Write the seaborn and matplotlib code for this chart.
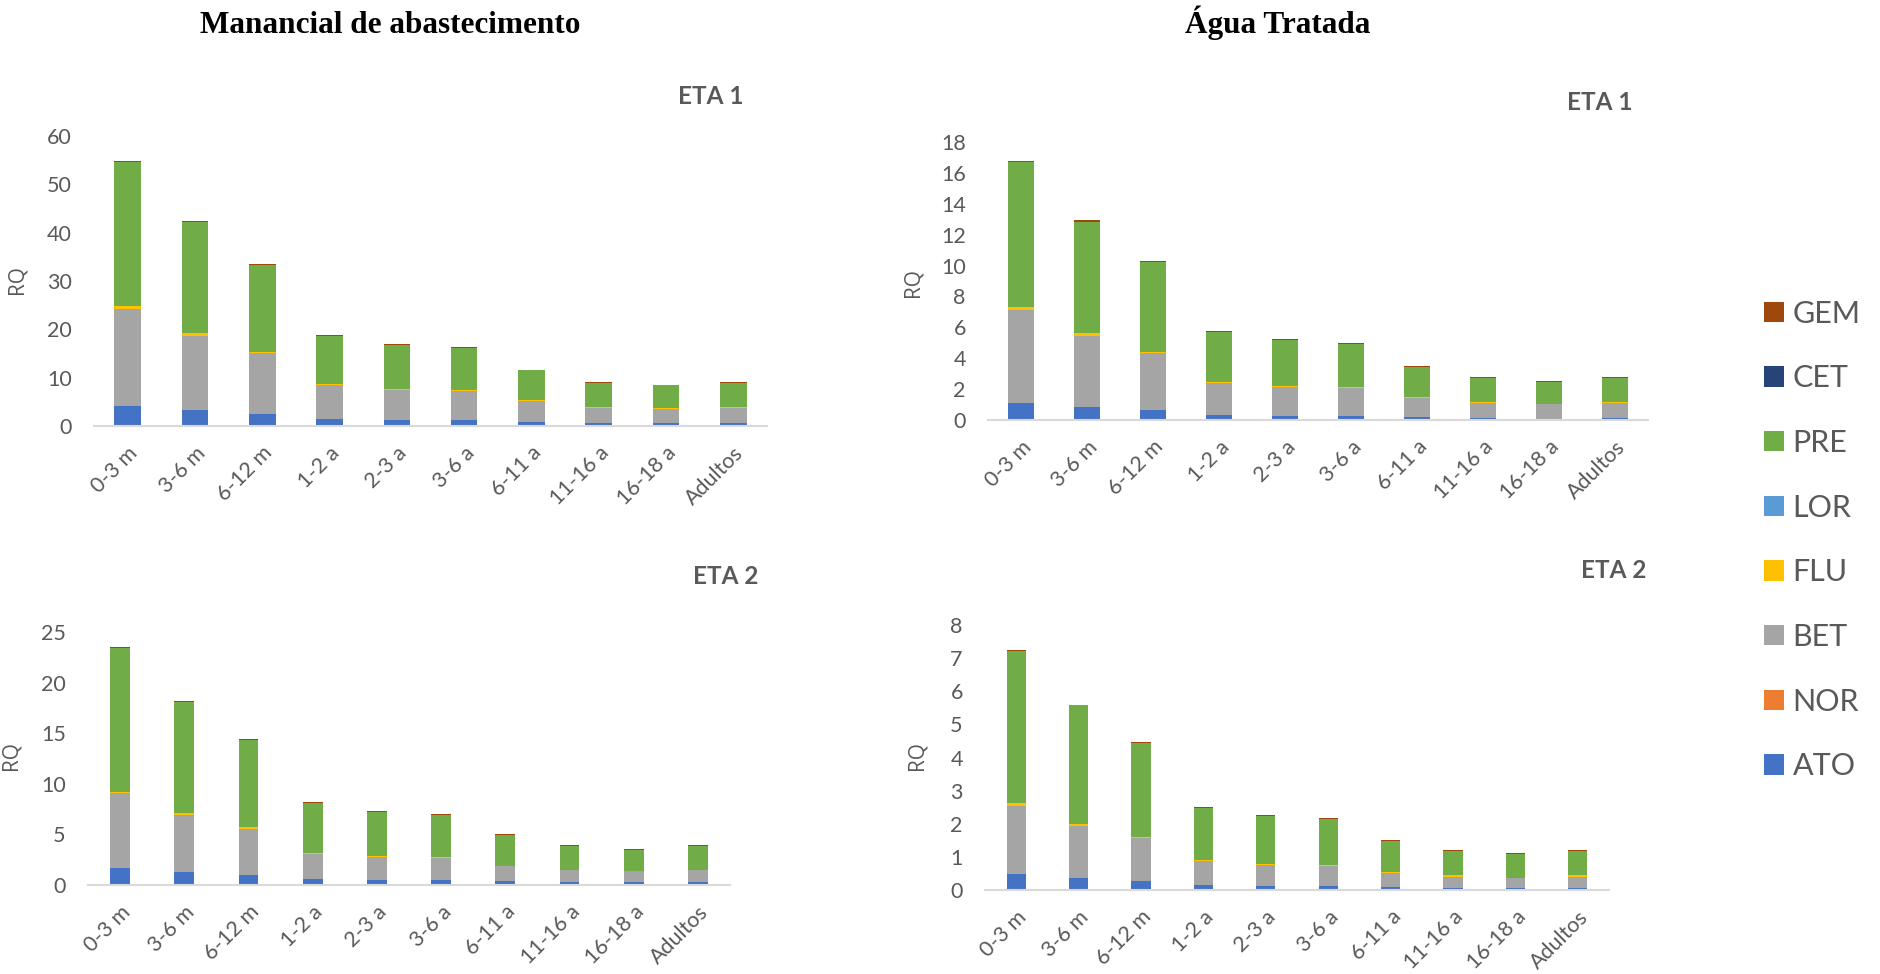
import numpy as np
import pandas as pd
import matplotlib
matplotlib.use("Agg")
import matplotlib.pyplot as plt
from matplotlib.patches import Patch
import seaborn as sns

# ---------------------------------------------------------------- data
idades = ["0-3 m", "3-6 m", "6-12 m", "1-2 a", "2-3 a", "3-6 a",
          "6-11 a", "11-16 a", "16-18 a", "Adultos"]
compostos = ["ATO", "NOR", "BET", "FLU", "LOR", "PRE", "CET", "GEM"]
cores = ["#4472C4", "#ED7D31", "#A5A5A5", "#FFC000",
         "#5B9BD5", "#70AD47", "#264478", "#9E480E"]

# Manancial de abastecimento - ETA 1
man1_ato = [4.15, 3.3, 2.5, 1.45, 1.25, 1.2, 0.8, 0.55, 0.55, 0.55]
man1_nor = [0.0, 0.0, 0.0, 0.0, 0.0, 0.0, 0.0, 0.0, 0.0, 0.0]
man1_bet = [20.05, 15.4, 12.6, 6.95, 6.25, 6.0, 4.4, 3.15, 3.05, 3.15]
man1_flu = [0.7, 0.5, 0.2, 0.3, 0.2, 0.2, 0.1, 0.3, 0.05, 0.3]
man1_lor = [0.0, 0.0, 0.0, 0.0, 0.0, 0.0, 0.0, 0.0, 0.0, 0.0]
man1_pre = [29.7, 23.0, 18.1, 10.0, 9.1, 8.8, 6.2, 5.0, 4.75, 5.0]
man1_cet = [0.0, 0.0, 0.0, 0.0, 0.0, 0.0, 0.0, 0.0, 0.0, 0.0]
man1_gem = [0.2, 0.15, 0.15, 0.15, 0.2, 0.2, 0.15, 0.15, 0.15, 0.15]

# Manancial de abastecimento - ETA 2
man2_ato = [1.64, 1.25, 0.99, 0.56, 0.49, 0.49, 0.36, 0.3, 0.26, 0.3]
man2_nor = [0.0, 0.0, 0.0, 0.0, 0.0, 0.0, 0.0, 0.0, 0.0, 0.0]
man2_bet = [7.41, 5.65, 4.5, 2.5, 2.31, 2.17, 1.52, 1.18, 1.12, 1.18]
man2_flu = [0.15, 0.17, 0.2, 0.07, 0.06, 0.06, 0.04, 0.04, 0.03, 0.04]
man2_lor = [0.0, 0.0, 0.0, 0.0, 0.0, 0.0, 0.0, 0.0, 0.0, 0.0]
man2_pre = [14.25, 11.02, 8.65, 4.93, 4.38, 4.22, 2.98, 2.3, 2.08, 2.3]
man2_cet = [0.0, 0.0, 0.0, 0.0, 0.0, 0.0, 0.0, 0.0, 0.0, 0.0]
man2_gem = [0.1, 0.08, 0.1, 0.1, 0.1, 0.1, 0.1, 0.09, 0.1, 0.09]

# Agua tratada - ETA 1
trat1_ato = [1.12, 0.86, 0.65, 0.34, 0.26, 0.26, 0.19, 0.13, 0.09, 0.13]
trat1_nor = [0.0, 0.0, 0.0, 0.0, 0.0, 0.0, 0.0, 0.0, 0.0, 0.0]
trat1_bet = [5.99, 4.57, 3.66, 2.03, 1.9, 1.81, 1.23, 0.95, 0.94, 0.95]
trat1_flu = [0.22, 0.22, 0.11, 0.09, 0.06, 0.09, 0.09, 0.08, 0.03, 0.08]
trat1_lor = [0.0, 0.0, 0.05, 0.0, 0.0, 0.0, 0.0, 0.0, 0.0, 0.0]
trat1_pre = [9.37, 7.2, 5.73, 3.23, 2.95, 2.75, 1.94, 1.58, 1.4, 1.58]
trat1_cet = [0.0, 0.0, 0.0, 0.0, 0.0, 0.0, 0.0, 0.0, 0.0, 0.0]
trat1_gem = [0.1, 0.08, 0.08, 0.06, 0.07, 0.07, 0.06, 0.06, 0.06, 0.06]

# Agua tratada - ETA 2
trat2_ato = [0.48, 0.35, 0.28, 0.16, 0.13, 0.13, 0.1, 0.07, 0.07, 0.07]
trat2_nor = [0.0, 0.0, 0.0, 0.0, 0.0, 0.0, 0.0, 0.0, 0.0, 0.0]
trat2_bet = [2.06, 1.58, 1.28, 0.71, 0.63, 0.59, 0.42, 0.33, 0.29, 0.33]
trat2_flu = [0.08, 0.06, 0.05, 0.04, 0.04, 0.04, 0.01, 0.04, 0.01, 0.04]
trat2_lor = [0.0, 0.0, 0.0, 0.0, 0.0, 0.0, 0.0, 0.0, 0.0, 0.0]
trat2_pre = [4.6, 3.58, 2.82, 1.57, 1.43, 1.38, 0.96, 0.75, 0.71, 0.75]
trat2_cet = [0.0, 0.0, 0.0, 0.0, 0.0, 0.0, 0.0, 0.0, 0.0, 0.0]
trat2_gem = [0.03, 0.03, 0.03, 0.04, 0.03, 0.03, 0.03, 0.03, 0.03, 0.03]

paineis = [
    dict(series=[man1_ato, man1_nor, man1_bet, man1_flu, man1_lor, man1_pre, man1_cet, man1_gem],
         rotulo="ETA 1", ymax=60, passo=10),
    dict(series=[trat1_ato, trat1_nor, trat1_bet, trat1_flu, trat1_lor, trat1_pre, trat1_cet, trat1_gem],
         rotulo="ETA 1", ymax=18, passo=2),
    dict(series=[man2_ato, man2_nor, man2_bet, man2_flu, man2_lor, man2_pre, man2_cet, man2_gem],
         rotulo="ETA 2", ymax=25, passo=5),
    dict(series=[trat2_ato, trat2_nor, trat2_bet, trat2_flu, trat2_lor, trat2_pre, trat2_cet, trat2_gem],
         rotulo="ETA 2", ymax=8, passo=1),
]

# ---------------------------------------------------------------- layout (pixels)
W, H = 1880, 974
# (left, right, y of zero line, y of top tick, bar width in category units)
caixas = [
    (94, 767, 426, 136, 0.395),
    (988, 1648, 420, 142, 0.39),
    (88, 730, 885, 632, 0.31),
    (985, 1609, 890, 625, 0.31),
]
rotulo_pos = [(711, 96), (1600, 102), (726, 576), (1614, 571)]
rq_pos = [(28, 280), (923, 283), (22, 756), (928, 756)]

sns.set_theme(style="white")
plt.rcParams["font.family"] = ["Lato", "DejaVu Sans"]
CINZA = "#595959"

fig = plt.figure(figsize=(W / 100, H / 100), dpi=100)

for painel, (x0, x1, y0, yt, larg), (lx, ly), (rx, ry) in zip(paineis, caixas, rotulo_pos, rq_pos):
    ax = fig.add_axes([x0 / W, 1 - y0 / H, (x1 - x0) / W, (y0 - yt) / H])
    base = np.zeros(len(idades))
    for nome, cor, valores in zip(compostos, cores, painel["series"]):
        df = pd.DataFrame({"idade": idades, "RQ": valores})
        sns.barplot(data=df, x="idade", y="RQ", order=idades, ax=ax,
                    color=cor, saturation=1, width=larg, bottom=base.copy(),
                    edgecolor="none", linewidth=0, errorbar=None)
        base = base + np.asarray(valores)

    ax.set_xlim(-0.5, len(idades) - 0.5)
    ax.set_ylim(0, painel["ymax"])
    ax.set_yticks(np.arange(0, painel["ymax"] + 0.001, painel["passo"]))
    ax.set_xlabel("")
    ax.set_ylabel("RQ", fontsize=15, color=CINZA, family=["Open Sans", "DejaVu Sans"])
    ax.yaxis.set_label_coords(rx / W, 1 - ry / H, transform=fig.transFigure)
    for s in ["top", "right", "left"]:
        ax.spines[s].set_visible(False)
    ax.spines["bottom"].set_color("#D9D9D9")
    ax.spines["bottom"].set_linewidth(1.5)
    ax.tick_params(axis="y", length=0, pad=16, labelsize=15.5, labelcolor=CINZA)
    ax.tick_params(axis="x", length=0, pad=12, labelsize=15.5, labelcolor=CINZA)
    for t in ax.get_xticklabels():
        t.set_rotation(45)
        t.set_ha("right")
        t.set_va("top")
        t.set_rotation_mode("anchor")
    ax.grid(False)
    ax.set_facecolor("none")

    fig.text(lx / W, 1 - ly / H, painel["rotulo"], ha="center", va="center",
             fontsize=17.5, fontweight="bold", color=CINZA)

# column titles
for texto, cx in [("Manancial de abastecimento", 390), ("Água Tratada", 1278)]:
    fig.text(cx / W, 1 - 33 / H, texto, ha="center", va="baseline",
             fontsize=22.5, fontweight="bold", color="black",
             family=["Liberation Serif", "DejaVu Serif"])

# legend: topmost layer listed first
alcas = [Patch(facecolor=c, edgecolor="none") for c in cores][::-1]
fig.legend(alcas, compostos[::-1], loc="center left",
           bbox_to_anchor=(1764 / W, 1 - 540 / H), frameon=False,
           borderpad=0, borderaxespad=0, handlelength=0.65, handleheight=0.65,
           handletextpad=0.28, labelspacing=1.2, fontsize=22, labelcolor=CINZA)

fig.savefig("out.png", dpi=100, facecolor="white")
